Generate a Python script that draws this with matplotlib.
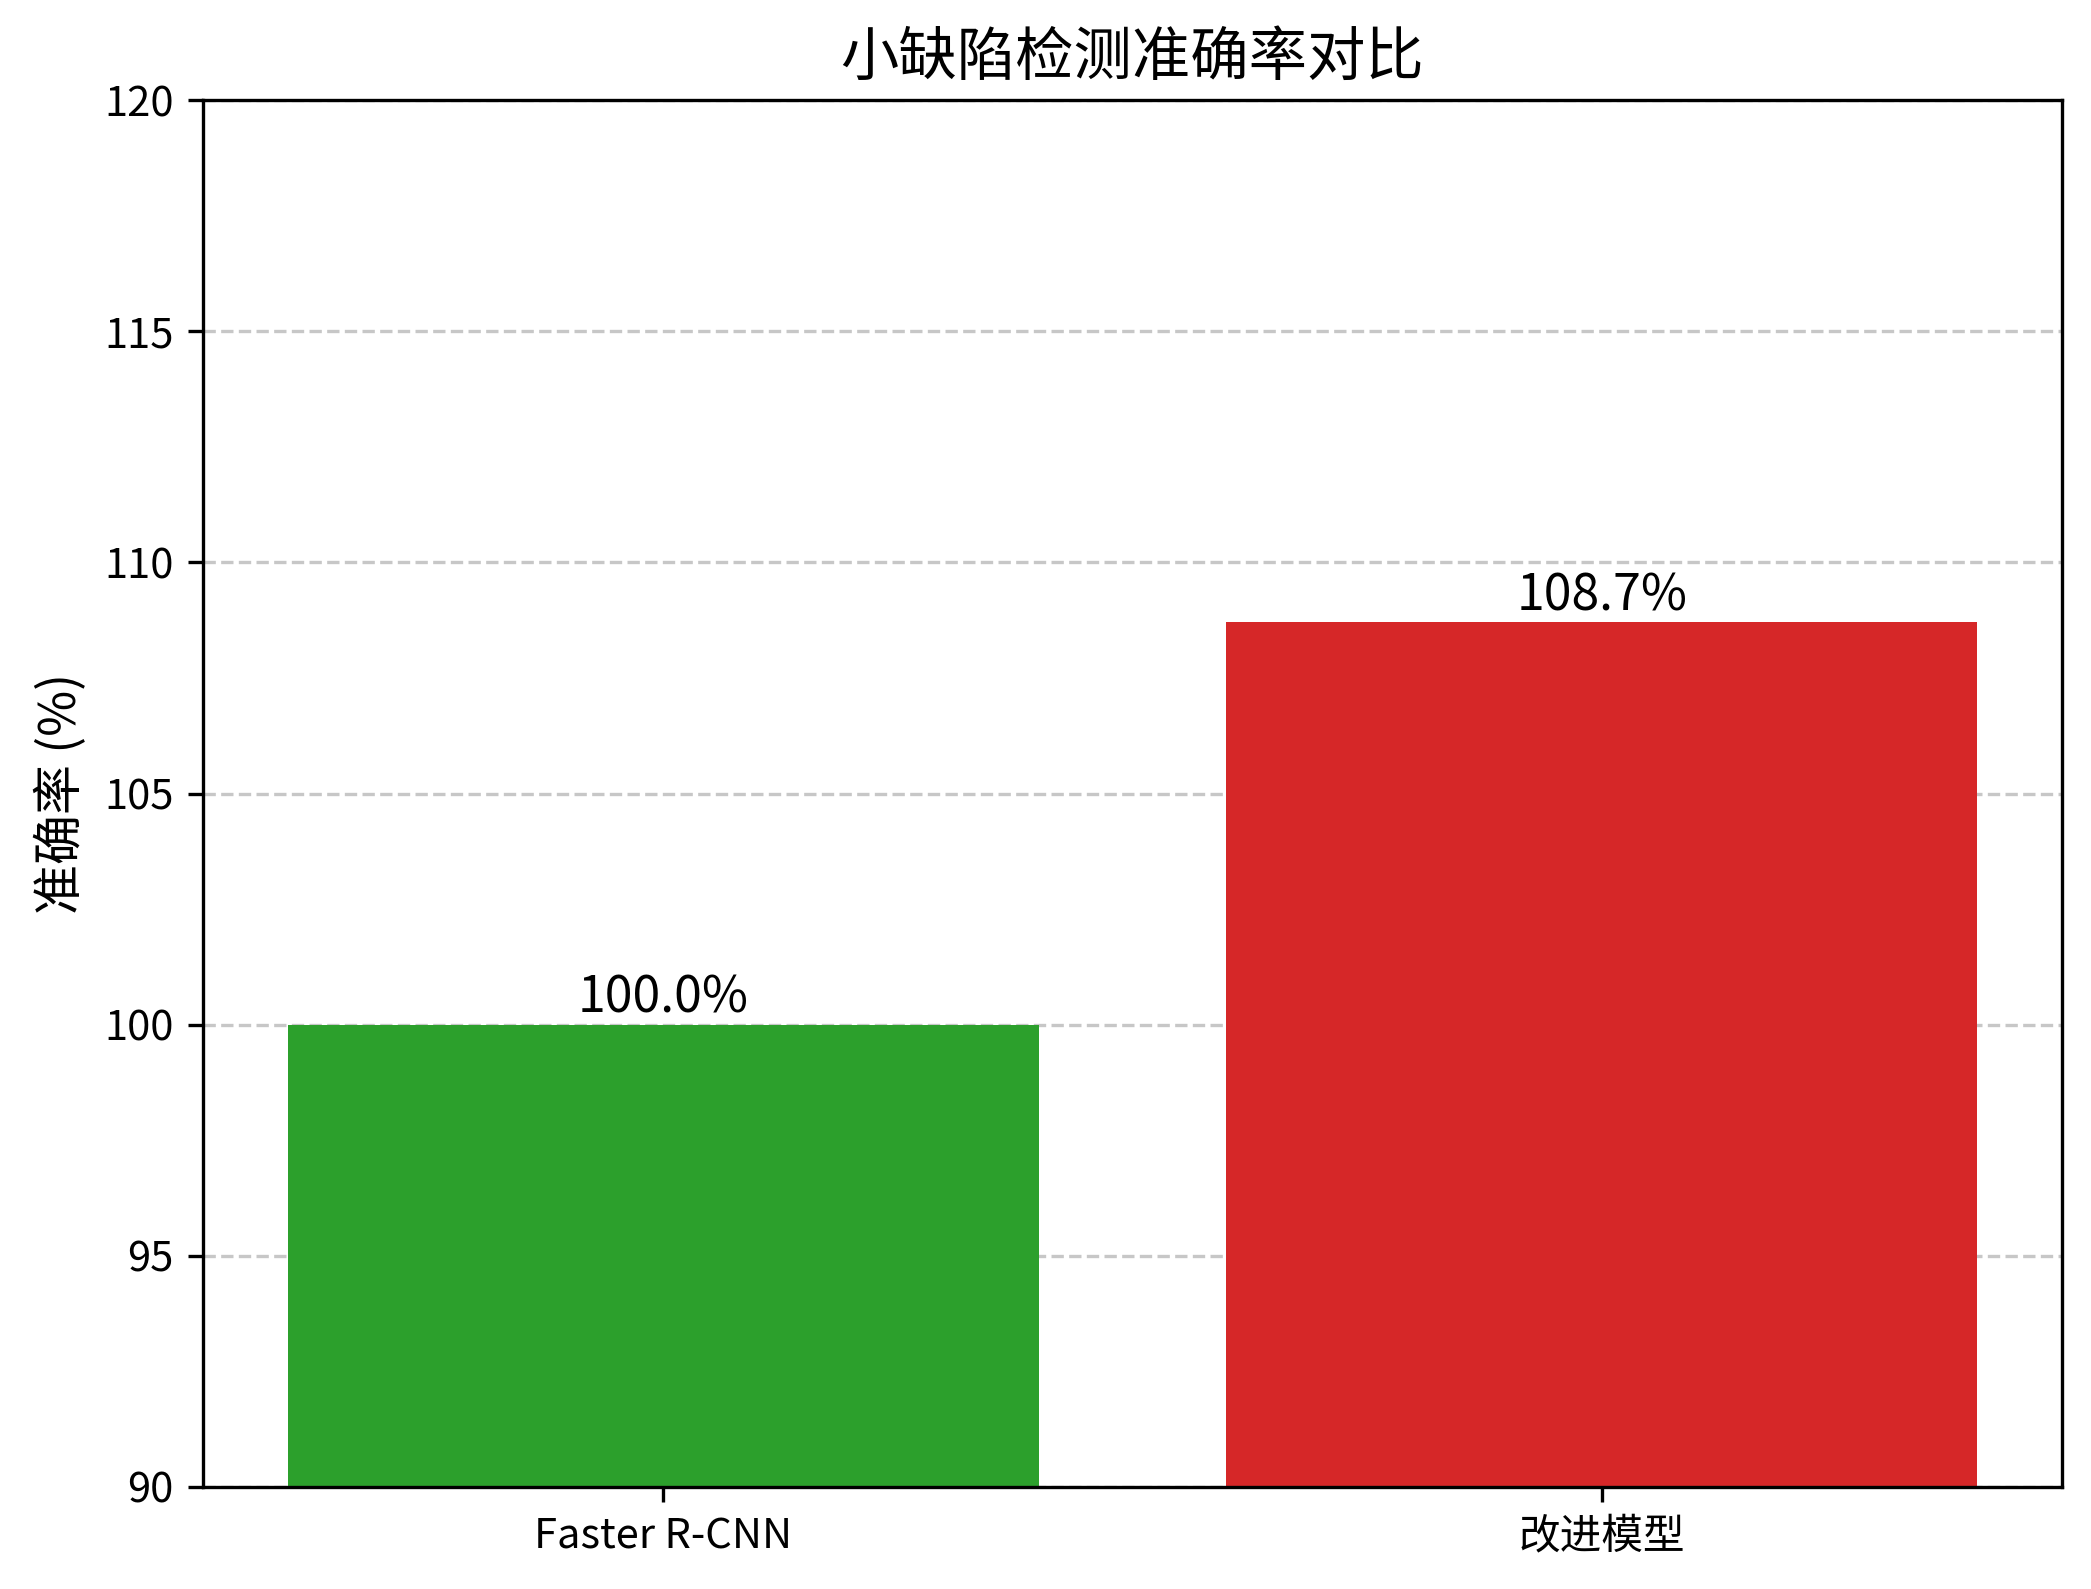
import matplotlib
matplotlib.use('Agg')
import matplotlib.pyplot as plt

plt.rcParams['font.family'] = ['Noto Sans CJK SC', 'DejaVu Sans']
plt.rcParams['axes.unicode_minus'] = False

# 数据
models = ['Faster R-CNN', '改进模型']
accuracy = [100.0, 108.7]
colors = ['#2ca02c', '#d62728']

fig = plt.figure(figsize=(2091 / 300, 1589 / 300), dpi=300)
ax = fig.add_axes([0.0971, 0.0642, 0.8889, 0.8728])

bars = ax.bar(models, accuracy, color=colors, width=0.8)

# 柱顶数值
for bar, value in zip(bars, accuracy):
    ax.text(bar.get_x() + bar.get_width() / 2, bar.get_height(),
            f'{value:.1f}%', ha='center', va='bottom', fontsize=12)

ax.set_ylim(90, 120)
ax.set_ylabel('准确率 (%)', fontsize=12)
ax.set_title('小缺陷检测准确率对比', fontsize=14)
ax.grid(axis='y', linestyle='--', alpha=0.7)
ax.set_axisbelow(True)

plt.savefig('out.png', dpi=300)
plt.close()
